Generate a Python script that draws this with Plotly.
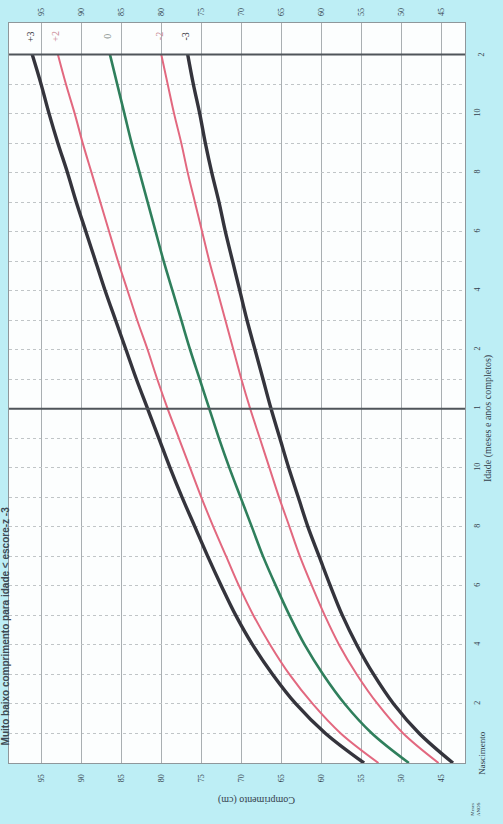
import plotly.graph_objects as go

# Length-for-age, girls, birth to 2 years (z-score curves, cm)
months = list(range(0, 25))
sd3neg = [43.6, 47.8, 51.0, 53.5, 55.6, 57.4, 58.9, 60.3, 61.7, 62.9, 64.1, 65.2, 66.3,
          67.3, 68.3, 69.3, 70.2, 71.1, 72.0, 72.8, 73.7, 74.5, 75.2, 76.0, 76.7]
sd2neg = [45.4, 49.8, 53.0, 55.6, 57.8, 59.6, 61.2, 62.7, 64.0, 65.3, 66.5, 67.7, 68.9,
          70.0, 71.0, 72.0, 73.0, 74.0, 74.9, 75.8, 76.7, 77.5, 78.4, 79.2, 80.0]
sd0 = [49.1, 53.7, 57.1, 59.8, 62.1, 64.0, 65.7, 67.3, 68.7, 70.1, 71.5, 72.8, 74.0,
       75.2, 76.4, 77.5, 78.6, 79.7, 80.7, 81.7, 82.7, 83.7, 84.6, 85.5, 86.4]
sd2 = [52.9, 57.6, 61.1, 64.0, 66.4, 68.5, 70.3, 71.9, 73.5, 75.0, 76.4, 77.8, 79.2,
       80.5, 81.7, 83.0, 84.2, 85.4, 86.5, 87.6, 88.7, 89.8, 90.8, 91.9, 92.9]
sd3 = [54.7, 59.5, 63.2, 66.1, 68.6, 70.7, 72.5, 74.2, 75.8, 77.4, 78.9, 80.3, 81.7,
       83.1, 84.4, 85.7, 87.0, 88.2, 89.4, 90.6, 91.7, 92.9, 94.0, 95.0, 96.1]

length_ticks = [45, 50, 55, 60, 65, 70, 75, 80, 85, 90, 95]
age_tickvals = [2, 4, 6, 8, 10, 12, 14, 16, 18, 20, 22]
age_ticktext = ["2", "4", "6", "8", "10", "1", "2", "4", "6", "8", "10"]

BLACK = "#34343c"
RED = "#e2687f"
GREEN = "#2f7f5c"
TXT = "#34404c"
SERIF = "Liberation Serif"

series = [
    (sd3, BLACK, 3.4, "+3", BLACK),
    (sd2, RED, 2.0, "+2", "#c98a95"),
    (sd0, GREEN, 2.6, "0", "#7f8a86"),
    (sd2neg, RED, 2.0, "-2", "#c98a95"),
    (sd3neg, BLACK, 3.4, "-3", BLACK),
]

fig = go.Figure()
for vals, col, w, name, _ in series:
    fig.add_trace(go.Scatter(x=vals, y=months, mode="lines", name=name,
                             line=dict(color=col, width=w, shape="spline"),
                             hoverinfo="skip", showlegend=False))

# invisible trace that carries the mirrored length axis along the top edge
fig.add_trace(go.Scatter(x=[sd3[0]], y=[0], xaxis="x2", mode="markers",
                         marker=dict(opacity=0), showlegend=False, hoverinfo="skip"))

# plot-area geometry in pixels, used for text placement
PL, PT, PW, PH = 8, 10, 457, 753


def px(x):
    return (x - PL) / PW


def py(y):
    return (PT + PH - y) / PH


def note(x, y, text, size, color=TXT, angle=-90, family=SERIF, xref="paper", yref="paper"):
    return dict(x=x, y=y, xref=xref, yref=yref, text=text, textangle=angle,
                showarrow=False, xanchor="center", yanchor="middle",
                font=dict(family=family, size=size, color=color))


annotations = []
# z-score labels above the 2-year line
for vals, col, w, name, lab_col in series:
    annotations.append(note(vals[-1] + 0.3, 24.62, name, 10, lab_col, xref="x", yref="y"))

annotations += [
    note(px(482), 0.35, "Nascimento", 9, yref="y"),
    note(px(482), 24, "2", 8, yref="y"),
    note(px(476), py(810), "Meses<br>ANOS", 5),
    note(px(488), py(412), "Idade (meses e anos completos)", 10),
    note(px(256), py(800), "Comprimento (cm)", 10, angle=180),
    note(px(4), py(624), "<b>Muito baixo comprimento para idade &lt; escore-z -3</b>", 10,
         color="#3e4a55", family="Liberation Sans"),
]

shapes = [
    dict(type="line", xref="paper", yref="y", x0=0, x1=1, y0=12, y1=12,
         line=dict(color="#4f555a", width=2)),
    dict(type="line", xref="paper", yref="y", x0=0, x1=1, y0=24, y1=24,
         line=dict(color="#4f555a", width=2)),
]

tickfont = dict(family=SERIF, size=8, color=TXT)
DOT = "#c0c5c7"

fig.update_layout(
    width=503, height=824,
    margin=dict(l=PL, r=503 - PL - PW, t=PT, b=824 - PT - PH),
    paper_bgcolor="#bdeef5",
    plot_bgcolor="#fcfefe",
    showlegend=False,
    xaxis=dict(range=[99.0, 42.1], tickvals=length_ticks, ticktext=[str(v) for v in length_ticks],
               tickangle=-90, tickfont=tickfont, ticks="", ticklabelstandoff=7,
               showgrid=True, gridcolor="#a9afb2", gridwidth=1, zeroline=False,
               showline=True, linecolor="#8f979b", linewidth=1, mirror=True),
    xaxis2=dict(range=[99.0, 42.1], overlaying="x", side="top", tickvals=length_ticks,
                ticktext=[str(v) for v in length_ticks], tickangle=-90, tickfont=tickfont,
                ticks="", ticklabelstandoff=6, showgrid=False, zeroline=False, showline=False),
    yaxis=dict(range=[0, 25.07], side="right", tickvals=age_tickvals, ticktext=age_ticktext,
               tickangle=-90, tickfont=tickfont, ticks="", ticklabelstandoff=4,
               showgrid=True, gridcolor=DOT, griddash="dot", gridwidth=1,
               minor=dict(tickvals=list(range(1, 25, 2)), showgrid=True, gridcolor=DOT,
                          griddash="dot", gridwidth=1),
               zeroline=False, showline=True, linecolor="#8f979b", linewidth=1, mirror=True),
    annotations=annotations,
    shapes=shapes,
)

fig.write_html("out.html")
